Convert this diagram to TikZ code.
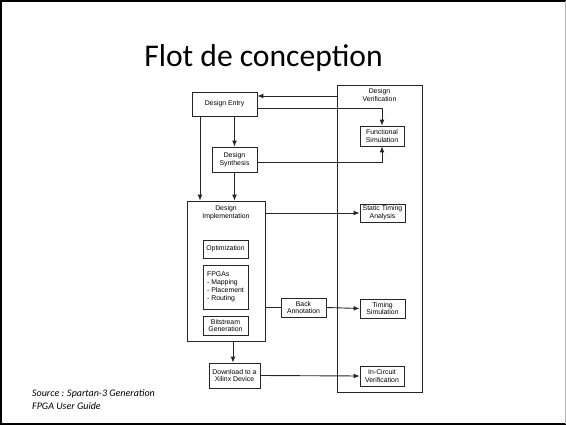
\documentclass[tikz,border=0pt]{standalone}
\usepackage{fontspec}
\setmainfont{Carlito}
\newfontfamily\diagfont{Liberation Sans}
\usetikzlibrary{positioning, calc}
\usetikzlibrary{arrows.meta}

\begin{document}
\begin{tikzpicture}[x=1pt, y=-1pt,
        blk/.style={draw=black!85, line width=0.7pt, inner sep=0pt, align=center,
            font=\diagfont\fontsize{6.9}{7.8}\selectfont},
        lbl/.style={inner sep=0pt, align=center, font=\diagfont\fontsize{6.9}{7.8}\selectfont},
        conn/.style={draw=black!85, line width=0.9pt},
        >={Latex[length=6pt,width=4.8pt]}]
            \useasboundingbox (0,0) rectangle (566,425);
            % slide frame
            \draw[line width=2pt] (566,1) -- (1,1) -- (1,424) -- (566,424);
            \draw[black!30, line width=1pt] (565,1) -- (565,424);

            \node[anchor=base, inner sep=0pt, font=\fontsize{31.6}{36}\selectfont] (title) at (263.5,67) {Flot de conception};

            % boxes
            \node[blk, minimum width=85pt, minimum height=307pt,
                label={[lbl, anchor=north, yshift=-4pt]north:{Design\\Verification}}] (verif) at (379.5,238.5) {};
            \node[blk, minimum width=78pt, minimum height=140pt,
                label={[lbl, anchor=north, yshift=-5pt]north:{Design\\Implementation}}] (impl) at (226,271) {};
            \node[blk, minimum width=65pt, minimum height=24pt] (entry) at (224.5,104) {Design Entry};
            \node[blk, minimum width=44pt, minimum height=20pt] (funcsim) at (382,136) {Functional\\Simulation};
            \node[blk, minimum width=45pt, minimum height=25pt] (synth) at (234.5,159.5) {Design\\Synthesis};
            \node[blk, minimum width=45pt, minimum height=18pt] (optim) at (225.5,249) {Optimization};
            \node[blk, minimum width=45pt, minimum height=44pt, align=left] (fpgas) at (225.5,287) {FPGAs\\- Mapping\\- Placement\\- Routing};
            \node[blk, minimum width=45pt, minimum height=19pt] (bitstr) at (225.5,325.5) {Bitstream\\Generation};
            \node[blk, minimum width=45pt, minimum height=18pt] (sta) at (382.5,213) {Static Timing\\Analysis};
            \node[blk, minimum width=45pt, minimum height=19pt] (backann) at (303.5,307.5) {Back\\Annotation};
            \node[blk, minimum width=45pt, minimum height=19pt] (timsim) at (382.5,308.5) {Timing\\Simulation};
            \node[blk, minimum width=51pt, minimum height=25pt] (download) at (234.5,375.5) {Download to a\\Xilinx Device};
            \node[blk, minimum width=44pt, minimum height=20pt] (incirc) at (382,376) {In-Circuit\\Verification};

            % connectors
            \coordinate (entryhi) at ([yshift=8pt]entry.east);
            \coordinate (entrylo) at ([yshift=-4pt]entry.east);
            \coordinate (entryleft) at ([xshift=-24.5pt]entry.south);
            \draw[conn, ->] (verif.west |- entryhi) -- (entryhi);
            \draw[conn, ->] (entrylo) -| (funcsim.north);
            \draw[conn, ->] ([yshift=-3pt]synth.east) -| (funcsim.south);
            \draw[conn, ->] (entry.south -| synth.north) -- (synth.north);
            \draw[conn, ->] (entryleft) -- (entryleft |- impl.north);
            \draw[conn, ->] (synth.south) -- (synth.south |- impl.north);
            \draw[conn, ->] (impl.east |- sta.west) -- (sta.west);
            \draw[conn] (impl.east |- backann.west) -- (backann.west);
            \draw[conn, ->] (backann.east) -- (timsim.west);
            \draw[conn, ->] ([xshift=-1.5pt]impl.south -| download.north) -- ([xshift=-1.5pt]download.north);
            \draw[conn, ->] (download.east) -- (incirc.west);

            \node[anchor=north west, inner sep=0pt, align=left, font=\itshape\fontsize{10}{13.5}\selectfont] (source) at (32,389) {Source : Spartan-3 Generation\\FPGA User Guide};
        \end{tikzpicture}
\end{document}
